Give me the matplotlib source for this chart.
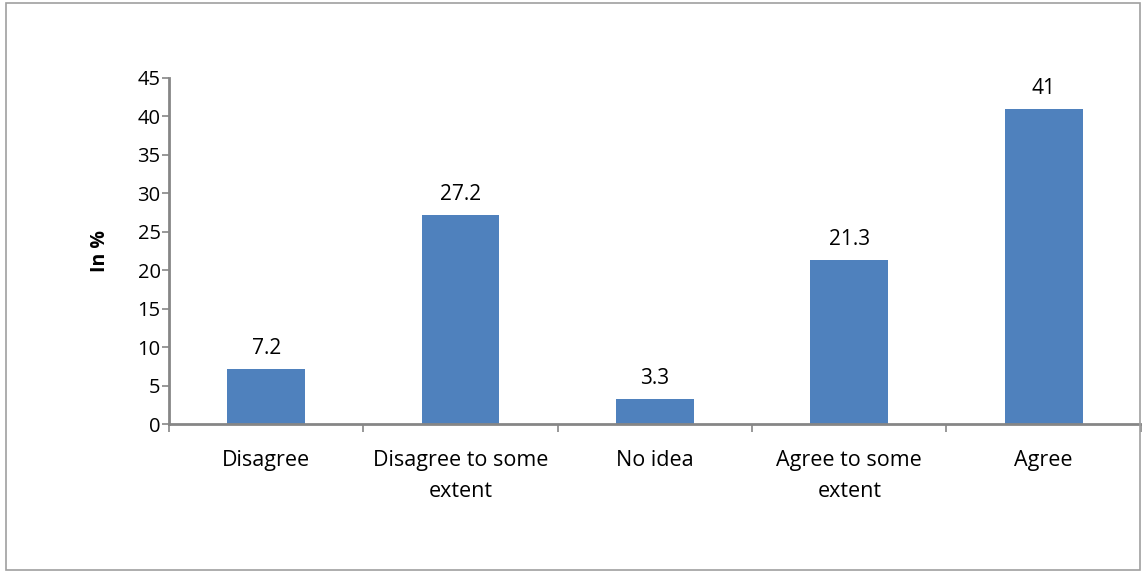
import matplotlib
matplotlib.use("Agg")
import matplotlib.pyplot as plt
import matplotlib.patches as mpatches
import numpy as np

# Survey responses, in percent
categories = ["Disagree", "Disagree to some\nextent", "No idea",
              "Agree to some\nextent", "Agree"]
values = [7.2, 27.2, 3.3, 21.3, 41]
value_labels = ["7.2", "27.2", "3.3", "21.3", "41"]
y_ticks = [0, 5, 10, 15, 20, 25, 30, 35, 40, 45]

plt.rcParams['font.family'] = ['Open Sans', 'DejaVu Sans']

BAR_COLOR = '#4F81BD'
AXIS_COLOR = '#868686'

fig = plt.figure(figsize=(11.42, 5.72), dpi=100)
ax = fig.add_axes([0.148, 0.2587, 0.851, 0.605])

x = np.arange(len(categories))
bars = ax.bar(x, values, width=0.4, color=BAR_COLOR, zorder=2)

for bar, lbl in zip(bars, value_labels):
    ax.annotate(lbl, (bar.get_x() + bar.get_width() / 2, bar.get_height()),
                xytext=(0, 7), textcoords='offset points',
                ha='center', va='bottom', fontsize=15)

ax.set_xlim(-0.5, len(categories) - 0.5)
ax.set_ylim(0, 45)
ax.set_yticks(y_ticks)
ax.tick_params(axis='y', labelsize=14.5, length=5, width=1.2, color=AXIS_COLOR, pad=1)

# category labels centered, ticks on the boundaries
ax.set_xticks(x)
ax.set_xticklabels(categories, fontsize=15.5, linespacing=1.6)
ax.tick_params(axis='x', which='major', length=0, pad=19)
ax.set_xticks(np.arange(-0.5, len(categories), 1), minor=True)
ax.tick_params(axis='x', which='minor', length=6, width=1.2, color=AXIS_COLOR)

for side in ['top', 'right']:
    ax.spines[side].set_visible(False)
for side in ['left', 'bottom']:
    ax.spines[side].set_color(AXIS_COLOR)
    ax.spines[side].set_linewidth(2)

ax.set_ylabel('In %', fontsize=14, fontweight='bold', labelpad=20)

# outer chart border
border = mpatches.Rectangle((6 / 1142, 2 / 572), 1134 / 1142, 567 / 572,
                            transform=fig.transFigure, fill=False,
                            edgecolor='#A0A0A0', linewidth=1.2)
fig.patches.append(border)

fig.savefig('out.png', dpi=100)
